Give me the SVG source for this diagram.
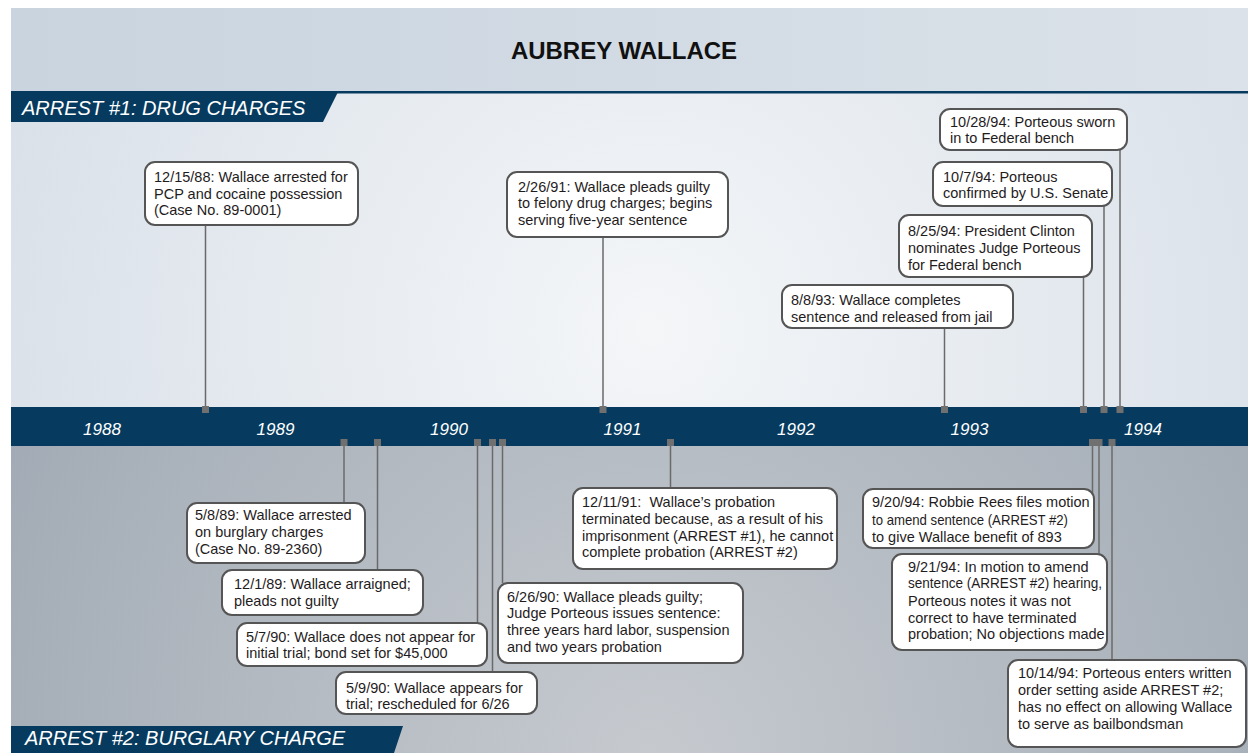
<svg xmlns="http://www.w3.org/2000/svg" width="1248" height="753" viewBox="0 0 1248 753">
<defs>
<linearGradient id="gTitle" x1="0" y1="0" x2="1" y2="0">
<stop offset="0" stop-color="#c9d4df"/><stop offset="1" stop-color="#dbe2e9"/>
</linearGradient>
<radialGradient id="gTop" cx="650" cy="330" r="760" gradientUnits="userSpaceOnUse">
<stop offset="0" stop-color="#f4f6f8"/><stop offset="1" stop-color="#d6dee7"/>
</radialGradient>
<radialGradient id="gBot" cx="650" cy="760" r="720" gradientUnits="userSpaceOnUse">
<stop offset="0" stop-color="#c6cacf"/><stop offset="1" stop-color="#a2abb5"/>
</radialGradient>
<style>
.box{fill:#ffffff;stroke:#555555;stroke-width:2}
.t{font-family:"Liberation Sans",Arial,sans-serif;font-size:14.5px;fill:#1f1c1d}
.yr{font-family:"Liberation Sans",Arial,sans-serif;font-size:17px;font-style:italic;fill:#ffffff;text-anchor:middle}
.ban{font-family:"Liberation Sans",Arial,sans-serif;font-size:20px;font-style:italic;fill:#ffffff}
.ln{stroke:#6a6a6a;stroke-width:1.5;fill:none}
.tk{fill:#707070}
.navy{fill:#063b5f}
</style>
</defs>
<rect x="0" y="0" width="1248" height="753" fill="#ffffff"/>
<rect x="11" y="8" width="1237" height="84" fill="url(#gTitle)"/>
<rect x="11" y="92" width="1237" height="315" fill="url(#gTop)"/>
<rect x="11" y="446" width="1237" height="307" fill="url(#gBot)"/>
<rect class="navy" x="11" y="91" width="1237" height="2.5"/>
<rect class="navy" x="11" y="407" width="1237" height="39"/>
<polygon class="navy" points="11,92 338,92 323,122 11,122"/>
<polygon class="navy" points="11,726 403,726 394,753 11,753"/>
<text x="624" y="59" text-anchor="middle" font-family="Liberation Sans, Arial, sans-serif" font-size="24" font-weight="bold" fill="#111111">AUBREY WALLACE</text>
<text class="ban" x="22" y="115">ARREST #1: DRUG CHARGES</text>
<text class="ban" x="25" y="745">ARREST #2: BURGLARY CHARGE</text>
<g id="years">
<text class="yr" x="102" y="435">1988</text>
<text class="yr" x="275.5" y="435">1989</text>
<text class="yr" x="449" y="435">1990</text>
<text class="yr" x="622.5" y="435">1991</text>
<text class="yr" x="796" y="435">1992</text>
<text class="yr" x="969.5" y="435">1993</text>
<text class="yr" x="1143" y="435">1994</text>
</g>
<g id="connectors">
<line class="ln" x1="205.5" y1="225" x2="205.5" y2="408"/>
<line class="ln" x1="603" y1="237" x2="603" y2="408"/>
<line class="ln" x1="944.5" y1="328" x2="944.5" y2="408"/>
<line class="ln" x1="1083.5" y1="277" x2="1083.5" y2="408"/>
<line class="ln" x1="1104" y1="206" x2="1104" y2="408"/>
<line class="ln" x1="1120" y1="150" x2="1120" y2="408"/>
<line class="ln" x1="344" y1="445" x2="344" y2="503"/>
<line class="ln" x1="377.5" y1="445" x2="377.5" y2="570"/>
<line class="ln" x1="477.5" y1="445" x2="477.5" y2="623"/>
<line class="ln" x1="492.5" y1="445" x2="492.5" y2="672"/>
<line class="ln" x1="502.5" y1="445" x2="502.5" y2="583"/>
<line class="ln" x1="670.5" y1="445" x2="670.5" y2="488"/>
<line class="ln" x1="1092.5" y1="445" x2="1092.5" y2="494"/>
<line class="ln" x1="1099" y1="445" x2="1099" y2="554"/>
<line class="ln" x1="1112" y1="445" x2="1112" y2="660"/>
<rect class="tk" x="202" y="406" width="7" height="7"/>
<rect class="tk" x="599.5" y="406" width="7" height="7"/>
<rect class="tk" x="941" y="406" width="7" height="7"/>
<rect class="tk" x="1080" y="406" width="7" height="7"/>
<rect class="tk" x="1100.5" y="406" width="7" height="7"/>
<rect class="tk" x="1116.5" y="406" width="7" height="7"/>
<rect class="tk" x="340.5" y="439" width="7" height="7"/>
<rect class="tk" x="374" y="439" width="7" height="7"/>
<rect class="tk" x="474" y="439" width="7" height="7"/>
<rect class="tk" x="489" y="439" width="7" height="7"/>
<rect class="tk" x="499" y="439" width="7" height="7"/>
<rect class="tk" x="667" y="439" width="7" height="7"/>
<rect class="tk" x="1089" y="439" width="7" height="7"/>
<rect class="tk" x="1095.5" y="439" width="7" height="7"/>
<rect class="tk" x="1108.5" y="439" width="7" height="7"/>
</g>
<g id="e881215">
<rect class="box" x="145" y="162" width="213" height="63" rx="10"/>
<text class="t" x="154" y="182">12/15/88: Wallace arrested for</text>
<text class="t" x="154" y="199">PCP and cocaine possession</text>
<text class="t" x="154" y="215">(Case No. 89-0001)</text>
</g>
<g id="e910226">
<rect class="box" x="507" y="172" width="221" height="65" rx="10"/>
<text class="t" x="518" y="192">2/26/91: Wallace pleads guilty</text>
<text class="t" x="518" y="208">to felony drug charges; begins</text>
<text class="t" x="518" y="225">serving five-year sentence</text>
</g>
<g id="e941028">
<rect class="box" x="940" y="109" width="187" height="41" rx="10"/>
<text class="t" x="950" y="127">10/28/94: Porteous sworn</text>
<text class="t" x="950" y="143">in to Federal bench</text>
</g>
<g id="e941007">
<rect class="box" x="933" y="162" width="179" height="44" rx="10"/>
<text class="t" x="943" y="182">10/7/94: Porteous</text>
<text class="t" x="943" y="198">confirmed by U.S. Senate</text>
</g>
<g id="e940825">
<rect class="box" x="899" y="215" width="193" height="62" rx="10"/>
<text class="t" x="908" y="236">8/25/94: President Clinton</text>
<text class="t" x="908" y="253">nominates Judge Porteous</text>
<text class="t" x="908" y="270">for Federal bench</text>
</g>
<g id="e930808">
<rect class="box" x="782" y="285" width="231" height="43" rx="10"/>
<text class="t" x="791" y="305">8/8/93: Wallace completes</text>
<text class="t" x="791" y="322">sentence and released from jail</text>
</g>
<g id="e890508">
<rect class="box" x="187" y="503" width="178" height="60" rx="10"/>
<text class="t" x="195" y="520">5/8/89: Wallace arrested</text>
<text class="t" x="195" y="537">on burglary charges</text>
<text class="t" x="195" y="554">(Case No. 89-2360)</text>
</g>
<g id="e891201">
<rect class="box" x="222" y="570" width="201" height="45" rx="10"/>
<text class="t" x="234" y="589">12/1/89: Wallace arraigned;</text>
<text class="t" x="234" y="606">pleads not guilty</text>
</g>
<g id="e900507">
<rect class="box" x="237" y="623" width="250" height="43" rx="10"/>
<text class="t" x="246" y="642">5/7/90: Wallace does not appear for</text>
<text class="t" x="246" y="658">initial trial; bond set for $45,000</text>
</g>
<g id="e900509">
<rect class="box" x="336" y="672" width="201" height="42" rx="10"/>
<text class="t" x="346" y="693">5/9/90: Wallace appears for</text>
<text class="t" x="346" y="709">trial; rescheduled for 6/26</text>
</g>
<g id="e900626">
<rect class="box" x="498" y="583" width="245" height="80" rx="10"/>
<text class="t" x="507" y="602">6/26/90: Wallace pleads guilty;</text>
<text class="t" x="507" y="618">Judge Porteous issues sentence:</text>
<text class="t" x="507" y="635">three years hard labor, suspension</text>
<text class="t" x="507" y="652">and two years probation</text>
</g>
<g id="e911211">
<rect class="box" x="573" y="488" width="264" height="81" rx="10"/>
<text class="t" x="582" y="507" xml:space="preserve">12/11/91:  Wallace’s probation</text>
<text class="t" x="582" y="524">terminated because, as a result of his</text>
<text class="t" x="582" y="541">imprisonment (ARREST #1), he cannot</text>
<text class="t" x="582" y="557">complete probation (ARREST #2)</text>
</g>
<g id="e940920">
<rect class="box" x="863" y="489" width="231" height="59" rx="10"/>
<text class="t" x="872" y="507">9/20/94: Robbie Rees files motion</text>
<text class="t" x="872" y="525" textLength="196" lengthAdjust="spacingAndGlyphs">to amend sentence (ARREST #2)</text>
<text class="t" x="872" y="542">to give Wallace benefit of 893</text>
</g>
<g id="e940921">
<rect class="box" x="892" y="554" width="215" height="96" rx="10"/>
<text class="t" x="908" y="572">9/21/94: In motion to amend</text>
<text class="t" x="908" y="588" textLength="194" lengthAdjust="spacingAndGlyphs">sentence (ARREST #2) hearing,</text>
<text class="t" x="908" y="606">Porteous notes it was not</text>
<text class="t" x="908" y="623">correct to have terminated</text>
<text class="t" x="908" y="639">probation; No objections made</text>
</g>
<g id="e941014">
<rect class="box" x="1008" y="660" width="238" height="87" rx="10"/>
<text class="t" x="1018" y="678">10/14/94: Porteous enters written</text>
<text class="t" x="1018" y="695">order setting aside ARREST #2;</text>
<text class="t" x="1018" y="712">has no effect on allowing Wallace</text>
<text class="t" x="1018" y="729">to serve as bailbondsman</text>
</g>
</svg>
